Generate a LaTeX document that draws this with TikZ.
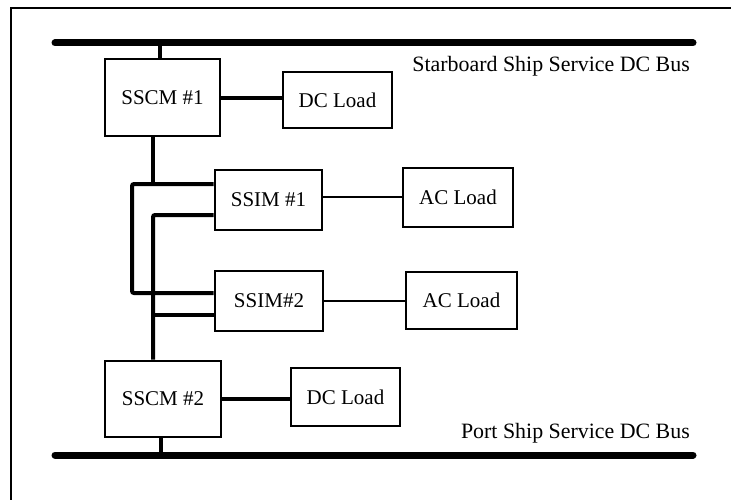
\documentclass[tikz,border=0pt]{standalone}
\usepackage{fontspec}
\setmainfont{Liberation Serif}
\begin{document}
\begin{tikzpicture}[x=1pt,y=-1pt,
  every node/.style={font=\fontsize{21}{24}\selectfont},
  module/.style={draw,line width=2.6pt,inner sep=0pt},
  load/.style={draw,line width=1.6pt,inner sep=0pt},
  buslabel/.style={anchor=base east,inner sep=0pt,font=\fontsize{21.9}{25}\selectfont},
  bus/.style={line width=7pt,line cap=round},
  feed/.style={line width=4pt},
  thinfeed/.style={line width=1.5pt},
  frame/.style={line width=2pt}]
\useasboundingbox (0,0) rectangle (731,500);
% frame (partly visible)
\coordinate (f1) at (11,500);
\coordinate (f2) at (11,8);
\coordinate (f3) at (731,8);
\draw[frame] (f1) -- (f2) -- (f3);
% buses
\coordinate (sb1) at (55,43);
\coordinate (sb2) at (693,43);
\coordinate (pb1) at (55,455);
\coordinate (pb2) at (693,455);
\draw[bus] (sb1) -- (sb2);
\draw[bus] (pb1) -- (pb2);
% modules and loads
\node[module,minimum width=115pt,minimum height=77pt] (sscm1) at (162.5,97.5) {SSCM \#1};
\node[load,minimum width=109pt,minimum height=56pt] (dc1) at (337.5,100) {DC Load};
\node[module,minimum width=107pt,minimum height=60pt] (ssim1) at (268.5,200) {SSIM \#1};
\node[load,minimum width=110pt,minimum height=59pt] (ac1) at (458,197.5) {AC Load};
\node[module,minimum width=108pt,minimum height=60pt] (ssim2) at (269,301) {SSIM\#2};
\node[load,minimum width=111pt,minimum height=57pt] (ac2) at (461.5,300.5) {AC Load};
\node[module,minimum width=116pt,minimum height=76pt] (sscm2) at (163,399) {SSCM \#2};
\node[load,minimum width=109pt,minimum height=58pt] (dc2) at (345.5,397) {DC Load};
% bus labels
\node[buslabel] (lbls) at (690,72) {Starboard Ship Service DC Bus};
\node[buslabel] (lblp) at (690,438) {Port Ship Service DC Bus};
% bus stubs
\draw[feed] (sscm1.north -| 160,0) -- (sb1 -| 160,0);
\draw[feed] (sscm2.south -| 161,0) -- (pb1 -| 161,0);
% DC loads
\draw[feed] (sscm1.east |- 0,98) -- (dc1.west |- 0,98);
\draw[feed] (sscm2.east |- 0,399) -- (dc2.west |- 0,399);
% AC loads
\draw[thinfeed] (ssim1.east |- 0,197) -- (ac1.west |- 0,197);
\draw[thinfeed] (ssim2.east |- 0,301) -- (ac2.west |- 0,301);
% SSCM #1 feeds
\coordinate (j1) at (153,184);
\draw[feed] (sscm1.south -| j1) -- (j1);
\draw[feed,rounded corners=2pt] (ssim1.west |- 0,184) -- (132,184) -- (132,293) -- (ssim2.west |- 0,293);
% SSCM #2 feeds
\draw[feed,rounded corners=2pt] (ssim1.west |- 0,215) -- (153,215) -- (sscm2.north -| 153,0);
\coordinate (j2) at (153,315);
\draw[feed] (j2) -- (ssim2.west |- j2);
\end{tikzpicture}
\end{document}
